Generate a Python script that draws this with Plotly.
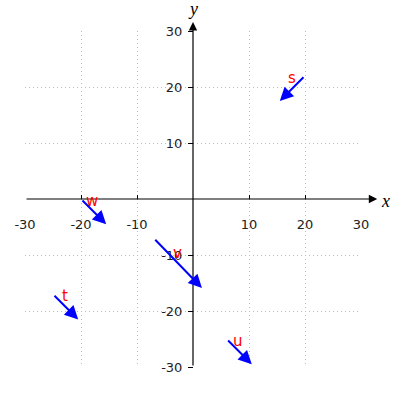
import plotly.graph_objects as go

# vector data (tail -> head) and label positions
names = ["s", "t", "u", "v", "w"]
tail_x = [20.0, -25.0, 6.0, -7.0, -20.0]
tail_y = [22.0, -17.0, -25.0, -7.0, 0.0]
head_x = [15.5, -20.5, 10.5, 1.6, -15.5]
head_y = [17.5, -21.5, -29.5, -15.9, -4.5]
label_x = [17.7, -22.8, 8.0, -2.8, -18.0]
label_y = [21.6, -17.3, -25.4, -9.7, -0.4]

tick_vals = [-30, -20, -10, 10, 20, 30]
tick_text = ["-30", "-20", "-10", "10", "20", "30"]
x_min, x_max = -30, 30
y_min, y_max = -30, 30

fig = go.Figure()
# invisible trace to establish axes
fig.add_trace(go.Scatter(x=[x_min, x_max], y=[y_min, y_max], mode="markers",
                         marker=dict(opacity=0), hoverinfo="skip", showlegend=False))


def px(v):  # data x -> paper fraction
    return (v - x_min) / (x_max - x_min)


def py(v):  # data y -> paper fraction
    return (v - y_min) / (y_max - y_min)


ann = []
# axis lines with arrowheads
ann.append(dict(x=32.9, y=0, ax=x_min, ay=0, xref="x", yref="y", axref="x", ayref="y",
                showarrow=True, arrowhead=2, arrowsize=1.4, arrowwidth=1.2,
                arrowcolor="black", standoff=0, text=""))
ann.append(dict(x=0, y=31.6, ax=0, ay=y_min, xref="x", yref="y", axref="x", ayref="y",
                showarrow=True, arrowhead=2, arrowsize=1.4, arrowwidth=1.2,
                arrowcolor="black", standoff=0, text=""))
ann.append(dict(x=px(34.45), y=py(-0.35), xref="paper", yref="paper", text="<i>x</i>",
                showarrow=False,
                font=dict(family="Liberation Serif", size=18, color="black"),
                xanchor="center", yanchor="middle"))
ann.append(dict(x=px(0), y=py(34.0), xref="paper", yref="paper", text="<i>y</i>",
                showarrow=False,
                font=dict(family="Liberation Serif", size=18, color="black"),
                xanchor="center", yanchor="middle"))

for n, x0, y0, x1, y1, lx, ly in zip(names, tail_x, tail_y, head_x, head_y, label_x, label_y):
    ann.append(dict(x=x1, y=y1, ax=x0, ay=y0, xref="x", yref="y", axref="x", ayref="y",
                    showarrow=True, arrowhead=2, arrowsize=1.35, arrowwidth=2,
                    arrowcolor="blue", standoff=0, text=""))
    ann.append(dict(x=lx, y=ly, xref="x", yref="y", text=n, showarrow=False,
                    font=dict(family="DejaVu Sans", size=15, color="red"),
                    xanchor="center", yanchor="middle"))

axis_common = dict(anchor="free", position=0.5,
                   tickvals=tick_vals, ticktext=tick_text,
                   showline=False, zeroline=False, showgrid=True,
                   gridcolor="#bbbbbb", griddash="1px,3px", gridwidth=1,
                   tickcolor="black", tickwidth=1, automargin=False,
                   tickfont=dict(family="DejaVu Sans", size=13, color="#222222"),
                   domain=[0, 1])

fig.update_layout(
    width=400, height=400,
    margin=dict(l=25, r=39, t=31, b=33, pad=0),
    paper_bgcolor="white", plot_bgcolor="white",
    xaxis=dict(**axis_common, range=[x_min, x_max], ticks="inside", ticklen=4,
               ticklabelstandoff=16),
    yaxis=dict(**axis_common, range=[y_min, y_max], ticks="outside", ticklen=5,
               ticklabelstandoff=3),
    annotations=ann,
    showlegend=False,
)

# remove the browser's default 8px page margin so the figure sits at (0, 0)
fig.write_html("out.html", config={"displayModeBar": False},
               post_script="document.body.style.margin='0px';")
